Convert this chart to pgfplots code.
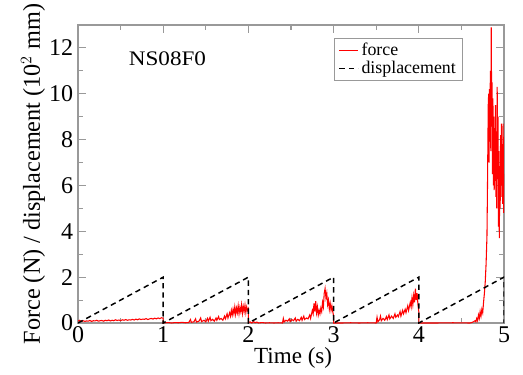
\documentclass[border=0pt]{standalone}
\usepackage{pgfplots}
\pgfplotsset{compat=1.18}
\usepackage{fontspec}
\setmainfont{Liberation Serif}

% measured force (N) during five loading cycles
\pgfplotstableread{
t f
0.00 0.08
0.02 0.12
0.04 0.06
0.06 0.10
0.08 0.07
0.10 0.09
0.12 0.08
0.14 0.11
0.16 0.07
0.18 0.10
0.20 0.09
0.22 0.12
0.24 0.08
0.26 0.10
0.28 0.11
0.30 0.08
0.32 0.12
0.34 0.10
0.36 0.13
0.38 0.09
0.40 0.12
0.42 0.10
0.44 0.14
0.46 0.11
0.48 0.13
0.50 0.10
0.52 0.14
0.54 0.12
0.56 0.15
0.58 0.12
0.60 0.14
0.62 0.13
0.64 0.16
0.66 0.13
0.68 0.17
0.70 0.14
0.72 0.18
0.74 0.15
0.76 0.17
0.78 0.16
0.80 0.19
0.82 0.15
0.84 0.18
0.86 0.20
0.88 0.17
0.90 0.21
0.92 0.18
0.94 0.22
0.96 0.19
0.98 0.23
1.00 0.21
1.00 0.00
1.02 0.01
1.06 0.02
1.10 0.00
1.14 0.02
1.18 0.01
1.22 0.03
1.26 0.01
1.30 0.02
1.32 0.15
1.33 0.03
1.36 0.05
1.38 0.18
1.39 0.04
1.42 0.08
1.44 0.22
1.45 0.06
1.48 0.12
1.50 0.05
1.52 0.20
1.53 0.08
1.55 0.25
1.56 0.10
1.58 0.16
1.60 0.08
1.62 0.22
1.63 0.12
1.65 0.28
1.66 0.15
1.68 0.20
1.70 0.12
1.72 0.30
1.73 0.18
1.75 0.40
1.76 0.22
1.78 0.45
1.79 0.30
1.80 0.55
1.81 0.35
1.82 0.60
1.83 0.40
1.84 0.70
1.85 0.38
1.86 0.65
1.87 0.45
1.88 0.75
1.89 0.40
1.90 0.68
1.91 0.50
1.92 0.80
1.93 0.42
1.94 0.72
1.95 0.50
1.96 0.78
1.97 0.45
1.98 0.70
1.99 0.55
2.00 0.62
2.00 0.02
2.02 0.05
2.04 0.00
2.06 0.06
2.08 0.01
2.10 0.04
2.12 0.00
2.16 0.02
2.20 0.00
2.25 0.01
2.30 0.00
2.35 0.01
2.40 0.00
2.41 0.20
2.42 0.05
2.44 0.12
2.46 0.08
2.48 0.18
2.49 0.06
2.51 0.15
2.53 0.10
2.55 0.22
2.56 0.08
2.58 0.16
2.60 0.10
2.62 0.25
2.63 0.12
2.65 0.30
2.66 0.15
2.68 0.22
2.70 0.18
2.72 0.35
2.73 0.20
2.75 0.55
2.76 0.40
2.77 0.85
2.78 0.50
2.79 0.95
2.80 0.45
2.81 0.70
2.82 0.35
2.83 0.55
2.84 0.40
2.85 0.65
2.86 0.50
2.87 0.90
2.88 0.70
2.89 1.30
2.90 1.50
2.91 1.10
2.92 1.30
2.93 0.80
2.94 1.00
2.95 0.60
2.96 0.85
2.97 0.55
2.98 0.75
2.99 0.50
3.00 0.30
3.00 0.00
3.10 0.00
3.20 0.01
3.30 0.00
3.40 0.01
3.50 0.00
3.51 0.25
3.52 0.05
3.54 0.15
3.55 0.30
3.56 0.10
3.58 0.20
3.60 0.12
3.62 0.28
3.63 0.15
3.65 0.35
3.66 0.18
3.68 0.30
3.70 0.20
3.72 0.40
3.73 0.25
3.75 0.35
3.76 0.28
3.78 0.50
3.79 0.30
3.81 0.55
3.82 0.40
3.84 0.60
3.85 0.45
3.87 0.75
3.88 0.55
3.90 0.90
3.91 0.70
3.92 1.10
3.93 0.80
3.94 1.20
3.95 0.90
3.96 1.50
3.97 1.00
3.98 1.30
3.99 0.80
4.00 0.50
4.00 0.00
4.20 0.00
4.40 0.01
4.60 0.00
4.62 0.02
4.64 0.05
4.66 0.10
4.67 0.05
4.68 0.20
4.69 0.10
4.70 0.35
4.71 0.20
4.72 0.50
4.73 0.30
4.74 0.60
4.75 0.45
4.76 0.90
4.77 1.30
4.78 1.80
4.79 2.60
4.80 3.80
4.805 5.50
4.81 7.50
4.815 9.50
4.82 10.00
4.825 7.00
4.83 10.20
4.835 8.50
4.84 11.00
4.845 7.50
4.85 12.90
4.855 9.50
4.86 10.50
4.865 6.50
4.87 9.80
4.875 6.00
4.88 9.00
4.885 5.80
4.89 8.50
4.895 6.20
4.90 9.50
4.905 5.50
4.91 8.00
4.915 5.00
4.92 10.30
4.925 6.80
4.93 9.00
4.935 4.20
4.94 7.50
4.945 3.70
4.95 6.50
4.955 5.00
4.96 8.20
4.965 5.50
4.97 8.70
4.975 6.00
4.98 7.80
4.985 5.20
4.99 8.70
4.995 4.80
5.00 6.50
}\forcedata

% imposed displacement (10^2 mm), saw-tooth
\pgfplotstableread{
t d
0 0
1 2
1 0
2 2
2 0
3 2
3 0
4 2
4 0
5 2
5 0
}\dispdata

\begin{document}
\begin{tikzpicture}
\begin{axis}[
  at={(0,0)}, anchor=south west,
  scale only axis,
  width=319.5pt, height=223.5pt,
  xmin=0, xmax=5, ymin=0, ymax=13,
  xtick={0,1,...,5}, ytick={0,2,...,12},
  minor xtick={0.5,1.5,2.5,3.5,4.5},
  minor ytick={1,3,5,7,9,11},
  major tick length=6pt, minor tick length=3.5pt,
  tick align=inside,
  xtick pos=both, ytick pos=both,
  axis line style={draw=gray!80, line width=0.9pt},
  every tick/.style={draw=gray!80, line width=0.8pt},
  /pgf/number format/assume math mode=true,
  xticklabel={\pgfmathtruncatemacro\tkl{\tick}\textrm{\tkl}},
  yticklabel={\pgfmathtruncatemacro\tkl{\tick}\textrm{\tkl}},
  ticklabel style={font=\rmfamily\fontsize{18}{18}\selectfont},
  xticklabel style={anchor=north, inner sep=0pt, yshift=-2.5pt},
  yticklabel style={anchor=east, inner sep=0pt, xshift=-3.5pt},
  xlabel={Time (s)},
  ylabel={Force (N) / displacement (10$^{2}$ mm)},
  every axis x label/.style={at={(axis description cs:0.505,-0.1174)},
    anchor=center, font=\fontsize{17.3}{17.3}\selectfont},
  every axis y label/.style={at={(axis description cs:-0.1056,0.5)},
    anchor=center, rotate=90, font=\fontsize{18.2}{18.2}\selectfont},
  legend style={at={(rel axis cs:0.9038,0.9564)}, anchor=north east,
    draw=gray!80, line width=0.8pt, font=\fontsize{13.4}{13.4}\selectfont,
    inner xsep=3pt, inner ysep=1.5pt, row sep=-1.5pt,
    /tikz/every even column/.append style={column sep=4pt}},
  legend image code/.code={\draw[#1] (0pt,0pt) -- (14pt,0pt);},
  legend cell align=left,
  clip=true,
]
\addplot[red, line width=0.8pt] table[x=t, y=f] {\forcedata};
\addlegendentry{force}
\addplot[black, line width=1.1pt, dash pattern=on 4pt off 3pt] table[x=t, y=d] {\dispdata};
\addlegendentry{displacement}
\node[anchor=base, xscale=1.12, font=\fontsize{15.5}{15.5}\selectfont] at (axis cs:1.05,11.22) {NS08F0};
\end{axis}
\pgfresetboundingbox
\useasboundingbox (-58.5pt,-38.25pt) rectangle (333.75pt,242.25pt);
\end{tikzpicture}
\end{document}
